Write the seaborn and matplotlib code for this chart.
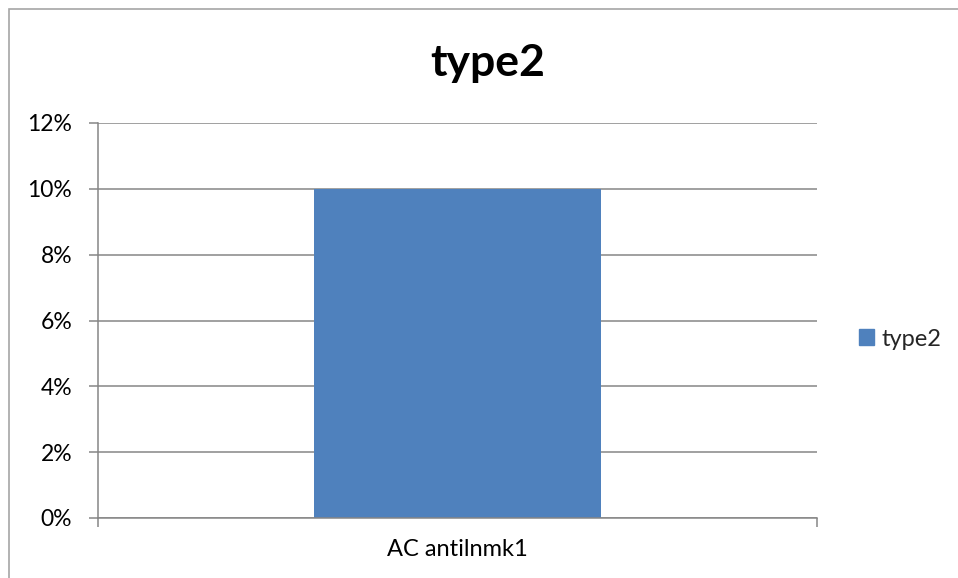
import matplotlib
matplotlib.use("Agg")
import matplotlib.pyplot as plt
import matplotlib.patches as mpatches
import seaborn as sns
import pandas as pd
from matplotlib.ticker import PercentFormatter, FixedLocator

categories = ["AC antilnmk1"]
series_name = "type2"
values = [0.10]
ytick_values = [0.00, 0.02, 0.04, 0.06, 0.08, 0.10, 0.12]

sns.set_theme(style="white")
plt.rcParams["font.family"] = ["Lato", "DejaVu Sans"]

df = pd.DataFrame({"category": categories, "value": values, "series": series_name})

W, H = 958, 578
fig = plt.figure(figsize=(W / 100, H / 100), dpi=100)
fig.patch.set_facecolor("white")

# outer chart frame
fig.add_artist(mpatches.Rectangle((9 / W, -0.05), 1.2, (H - 9) / H + 0.05,
                                  transform=fig.transFigure, fill=False,
                                  edgecolor="#a6a6a6", linewidth=1.2))

ax = fig.add_axes([98 / W, (H - 518) / H, 719 / W, 395 / H])
bar_color = "#4f81bd"
sns.barplot(data=df, x="category", y="value", hue="series", palette=[bar_color],
            width=0.4, ax=ax, legend=False, saturation=1, linewidth=0)

ax.set_xlim(-0.5, 0.5)
ax.set_ylim(0, 0.12)
ax.yaxis.set_major_locator(FixedLocator(ytick_values))
ax.yaxis.set_major_formatter(PercentFormatter(1.0, decimals=0))
ax.set_xlabel("")
ax.set_ylabel("")

grid_color = "#868686"
ax.grid(axis="y", color=grid_color, linewidth=1.1)
ax.set_axisbelow(True)
for side in ["top", "right"]:
    ax.spines[side].set_visible(False)
for side in ["left", "bottom"]:
    ax.spines[side].set_color(grid_color)
    ax.spines[side].set_linewidth(1.1)

ax.tick_params(axis="y", which="major", left=True, length=6.5, width=1.1,
               color=grid_color, pad=12, labelsize=16.5, labelcolor="black")
ax.xaxis.set_minor_locator(FixedLocator([-0.5, 0.5]))
ax.tick_params(axis="x", which="minor", bottom=True, length=6.5, width=1.1,
               color=grid_color, direction="out")
ax.tick_params(axis="x", which="major", length=0, pad=15, labelsize=17,
               labelcolor="black")

# chart title, centred on the whole chart frame
fig.text(488 / W, 1 - 63 / H, series_name, fontsize=32, fontweight="bold",
         color="black", ha="center", va="center")

handle = mpatches.Patch(color=bar_color, label=series_name)
fig.legend(handles=[handle], loc="center left", bbox_to_anchor=(859 / W, 1 - 339 / H),
           frameon=False, fontsize=17, handlelength=0.65, handleheight=0.65,
           handletextpad=0.3, borderaxespad=0, borderpad=0)

fig.savefig("out.png", dpi=100)
